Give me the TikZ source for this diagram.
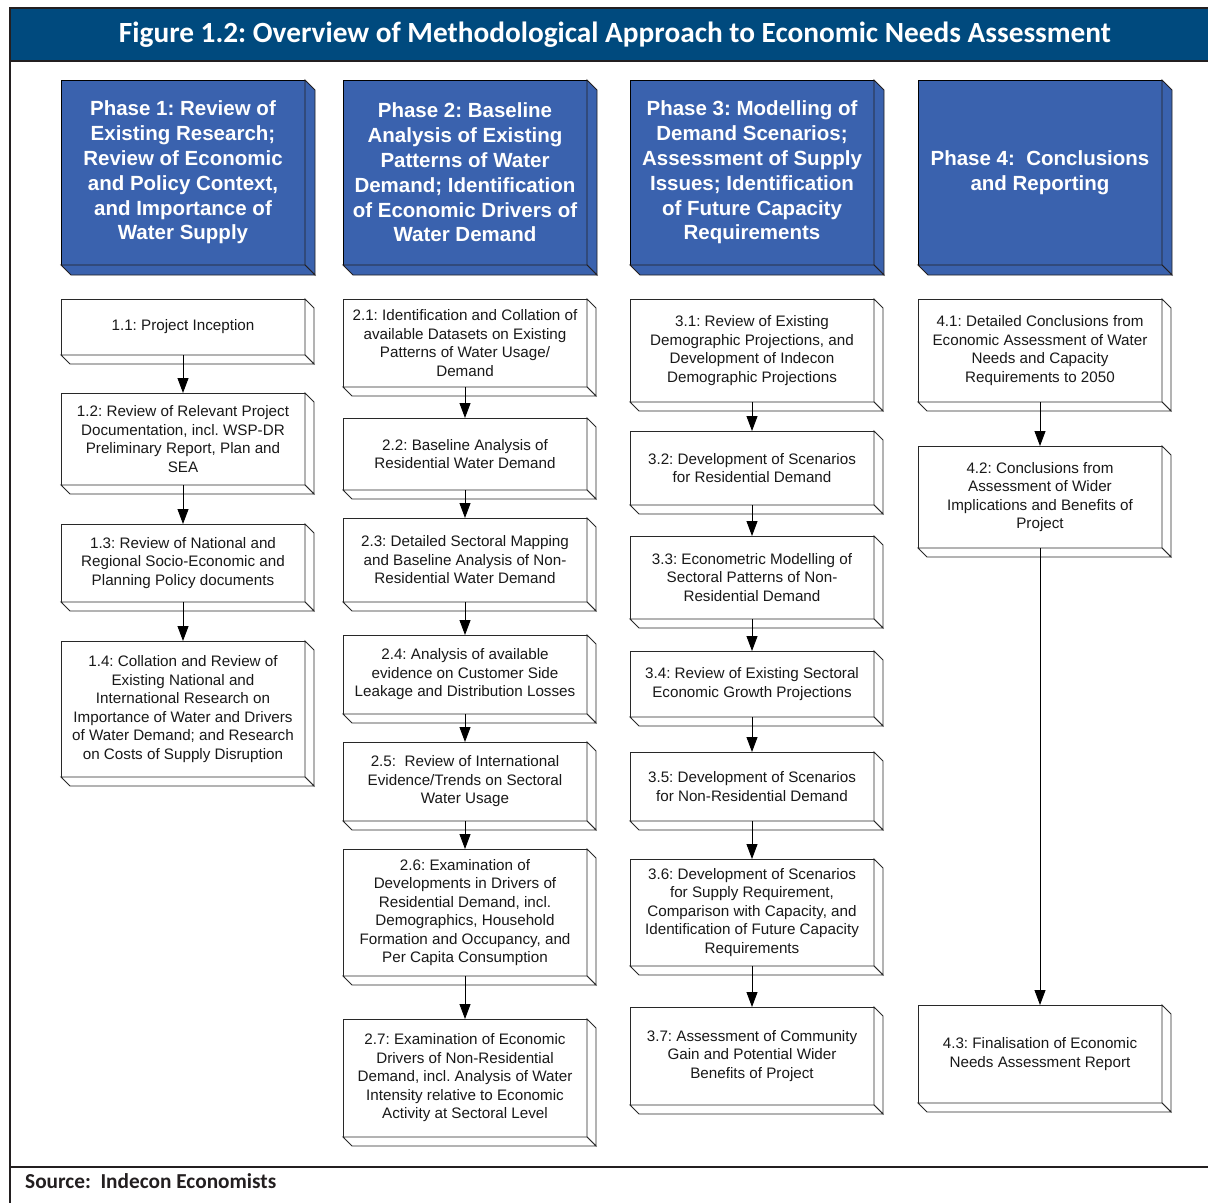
\documentclass[tikz,border=0pt]{standalone}
\usepackage{fontspec}
\setmainfont{Liberation Sans}
\newfontfamily\carlito{Carlito}
\usetikzlibrary{arrows.meta}
\frenchspacing
\definecolor{titleblue}{RGB}{0,74,126}
\definecolor{phaseblue}{RGB}{58,98,174}
\definecolor{rulegray}{RGB}{35,31,32}
\definecolor{boxline}{RGB}{40,40,40}
\definecolor{txt}{RGB}{25,25,25}
\tikzset{
  phasebox/.style={draw=black, line width=0.9pt, fill=phaseblue, text=white, inner sep=0pt, outer sep=0pt, align=center, font=\fontsize{20.5}{24.8}\selectfont\bfseries},
  phaseboxface/.style={draw=rulegray, line width=0.9pt, fill=phaseblue},
  stepbox/.style={draw=boxline, line width=0.9pt, fill=white, text=txt, inner sep=0pt, outer sep=0pt, align=center, font=\fontsize{15.2}{18.5}\selectfont},
  stepboxface/.style={draw=boxline, line width=0.9pt, fill=white},
  flow/.style={draw=black, line width=0.9pt, -{Triangle[width=11pt,length=15pt]}},
  rule/.style={draw=rulegray, line width=2.2pt}
}
% #1 style, #2 name, #3 x1, #4 y1, #5 x2, #6 y2, #7 depth, #8 text
\newcommand\mkbox[8]{%
  \node[#1, minimum width={(#5-#3)*1pt}, minimum height={(#6-#4)*1pt}] (#2) at ({(#3+#5)/2},{-(#4+#6)/2}) {#8};
  \filldraw[#1face] (#2.north east) -- ++(#7,-#7) -- ([shift={(#7,-#7)}]#2.south east) -- (#2.south east) -- cycle;
  \filldraw[#1face] (#2.south west) -- ++(#7,-#7) -- ([shift={(#7,-#7)}]#2.south east) -- (#2.south east) -- cycle;
}
\begin{document}
\begin{tikzpicture}[x=1pt,y=1pt]
\useasboundingbox (0,0) rectangle (1208,-1203);
% header
\fill[titleblue] (10,-8) rectangle (1208,-61);
\draw[rule] (10,-8) -- (1208,-8);
\draw[rule] (10,-61) -- (1208,-61);
\node[text=white, inner sep=0pt, font=\carlito\fontsize{29.3}{33}\selectfont\bfseries] (title) at (615,-35) {Figure 1.2: Overview of Methodological Approach to Economic Needs Assessment};
\draw[rule] (10,-7) -- (10,-1203);
\draw[rule] (10,-1167) -- (1208,-1167);
\node[anchor=base west, inner sep=0pt, text=rulegray, font=\carlito\fontsize{21.3}{24}\selectfont\bfseries] (source) at (25,-1188) {Source:\ \ Indecon Economists};

% phases
\mkbox{phasebox}{p1}{61}{80}{305}{265}{10}{Phase 1: Review of\\Existing Research;\\Review of Economic\\and Policy Context,\\and Importance of\\Water Supply}
\mkbox{phasebox}{p2}{343}{80}{587}{265}{10}{Phase 2: Baseline\\Analysis of Existing\\Patterns of Water\\Demand; Identification\\of Economic Drivers of\\Water Demand}
\mkbox{phasebox}{p3}{630}{80}{874}{265}{10}{Phase 3: Modelling of\\Demand Scenarios;\\Assessment of Supply\\Issues; Identification\\of Future Capacity\\Requirements}
\mkbox{phasebox}{p4}{918}{80}{1162}{265}{10}{Phase 4:\ \ Conclusions\\and Reporting}

% column 1
\mkbox{stepbox}{b11}{61}{299}{305}{355}{9}{1.1: Project Inception}
\mkbox{stepbox}{b12}{61}{393}{305}{485}{9}{1.2: Review of Relevant Project\\Documentation, incl. WSP-DR\\Preliminary Report, Plan and\\SEA}
\mkbox{stepbox}{b13}{61}{524}{305}{602}{9}{1.3: Review of National and\\Regional Socio-Economic and\\Planning Policy documents}
\mkbox{stepbox}{b14}{61}{641}{305}{777}{9}{1.4: Collation and Review of\\Existing National and\\International Research on\\Importance of Water and Drivers\\of Water Demand; and Research\\on Costs of Supply Disruption}

% column 2
\mkbox{stepbox}{b21}{343}{299}{587}{387}{9}{2.1: Identification and Collation of\\available Datasets on Existing\\Patterns of Water Usage/\\Demand}
\mkbox{stepbox}{b22}{343}{418}{587}{490}{9}{2.2: Baseline Analysis of\\Residential Water Demand}
\mkbox{stepbox}{b23}{343}{518}{587}{602}{9}{2.3: Detailed Sectoral Mapping\\and Baseline Analysis of Non-\\Residential Water Demand}
\mkbox{stepbox}{b24}{343}{635}{587}{714}{9}{2.4: Analysis of available\\evidence on Customer Side\\Leakage and Distribution Losses}
\mkbox{stepbox}{b25}{343}{742}{587}{821}{9}{2.5:\ \ Review of International\\Evidence/Trends on Sectoral\\Water Usage}
\mkbox{stepbox}{b26}{343}{849}{587}{976}{9}{2.6: Examination of\\Developments in Drivers of\\Residential Demand, incl.\\Demographics, Household\\Formation and Occupancy, and\\Per Capita Consumption}
\mkbox{stepbox}{b27}{343}{1019}{587}{1137}{9}{2.7: Examination of Economic\\Drivers of Non-Residential\\Demand, incl. Analysis of Water\\Intensity relative to Economic\\Activity at Sectoral Level}

% column 3
\mkbox{stepbox}{b31}{630}{299}{874}{402}{9}{3.1: Review of Existing\\Demographic Projections, and\\Development of Indecon\\Demographic Projections}
\mkbox{stepbox}{b32}{630}{431}{874}{505}{9}{3.2: Development of Scenarios\\for Residential Demand}
\mkbox{stepbox}{b33}{630}{536}{874}{619}{9}{3.3: Econometric Modelling of\\Sectoral Patterns of Non-\\Residential Demand}
\mkbox{stepbox}{b34}{630}{651}{874}{717}{9}{3.4: Review of Existing Sectoral\\Economic Growth Projections}
\mkbox{stepbox}{b35}{630}{752}{874}{821}{9}{3.5: Development of Scenarios\\for Non-Residential Demand}
\mkbox{stepbox}{b36}{630}{859}{874}{966}{9}{3.6: Development of Scenarios\\for Supply Requirement,\\Comparison with Capacity, and\\Identification of Future Capacity\\Requirements}
\mkbox{stepbox}{b37}{630}{1007}{874}{1105}{9}{3.7: Assessment of Community\\Gain and Potential Wider\\Benefits of Project}

% column 4
\mkbox{stepbox}{b41}{918}{299}{1162}{402}{9}{4.1: Detailed Conclusions from\\Economic Assessment of Water\\Needs and Capacity\\Requirements to 2050}
\mkbox{stepbox}{b42}{918}{446}{1162}{548}{9}{4.2: Conclusions from\\Assessment of Wider\\Implications and Benefits of\\Project}
\mkbox{stepbox}{b43}{918}{1005}{1162}{1103}{9}{4.3: Finalisation of Economic\\Needs Assessment Report}

% arrows
\foreach \a/\b in {b11/b12,b12/b13,b13/b14,
  b21/b22,b22/b23,b23/b24,b24/b25,b25/b26,b26/b27,
  b31/b32,b32/b33,b33/b34,b34/b35,b35/b36,b36/b37,
  b41/b42,b42/b43}
  \draw[flow] (\a.south) -- (\b.north);
\end{tikzpicture}
\end{document}
